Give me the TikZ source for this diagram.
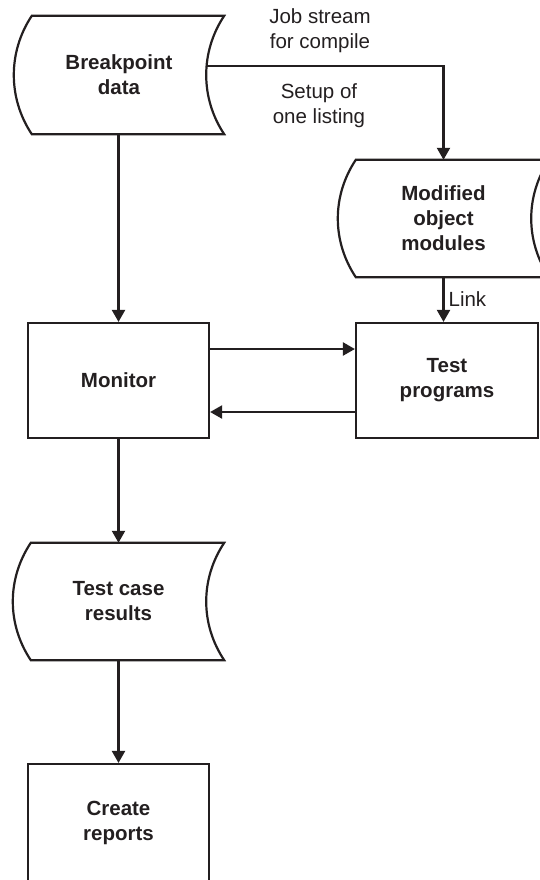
\documentclass[tikz,border=0pt]{standalone}
\usepackage{fontspec}
\setmainfont{Liberation Sans}
\usetikzlibrary{arrows.meta}
\definecolor{ink}{HTML}{231F20}
\newcommand\drawstored[1]{%
  \draw[shapeline] ([xshift=18pt]#1.north west) -- (#1.north east)
    .. controls +(-24,36) and +(-24,-36) .. (#1.south east)
    -- ([xshift=18pt]#1.south west)
    .. controls +(-24,-36) and +(-24,36) .. cycle;}
\begin{document}
\begin{tikzpicture}[x=1pt,y=-1pt,
  shapeline/.style={draw=ink,line width=2.2pt,line join=miter},
  box/.style={draw=ink,line width=2.2pt,inner sep=0pt,align=center,
    text=ink,font=\bfseries\fontsize{20.5}{25}\selectfont},
  stored/.style={inner sep=0pt,align=center,text=ink,
    font=\bfseries\fontsize{20.5}{25}\selectfont},
  lbl/.style={inner sep=0pt,align=center,text=ink,
    font=\fontsize{20.5}{25}\selectfont},
  arr/.style={draw=ink,line width=2.2pt,-{Triangle[length=12pt,width=13pt]}},
  ln/.style={draw=ink,line width=2.2pt}]
\useasboundingbox (0,0) rectangle (539,880);
\node[stored,minimum width=210pt,minimum height=118pt] (bp) at (119,75) {Breakpoint\\data};
\node[stored,minimum width=211pt,minimum height=117pt] (mod) at (443.5,218.5) {Modified\\object\\modules};
\node[stored,minimum width=211pt,minimum height=117pt] (tcr) at (118.5,601.5) {Test case\\results};
\drawstored{bp}
\drawstored{mod}
\drawstored{tcr}
\node[box,minimum width=181pt,minimum height=115pt] (mon) at (118.5,380.5) {Monitor};
\node[box,minimum width=182pt,minimum height=115pt] (tp) at (447,380.5) {Test\\programs};
\node[box,minimum width=181pt,minimum height=118pt] (cr) at (118.5,823) {Create\\reports};
\node[lbl] (job) at (320,31) {Job stream\\for compile};
\node[lbl] (setup) at (319,106) {Setup of\\one listing};
\coordinate (bpj) at ([xshift=-17pt,yshift=9pt]bp.east);
\coordinate (r1) at (0,349);
\coordinate (r2) at (0,412);
\draw[arr] (bpj) -| (mod.north);
\draw[arr] (mon.north |- bp.south) -- (mon.north);
\draw[arr] (mod.south) -- (mod.south |- tp.north) node[lbl,midway,right=4pt] (link) {Link};
\draw[arr] (mon.east |- r1) -- (tp.west |- r1);
\draw[arr] (tp.west |- r2) -- (mon.east |- r2);
\draw[arr] (mon.south) -- (mon.south |- tcr.north);
\draw[arr] (tcr.south) -- (tcr.south |- cr.north);
\end{tikzpicture}
\end{document}
